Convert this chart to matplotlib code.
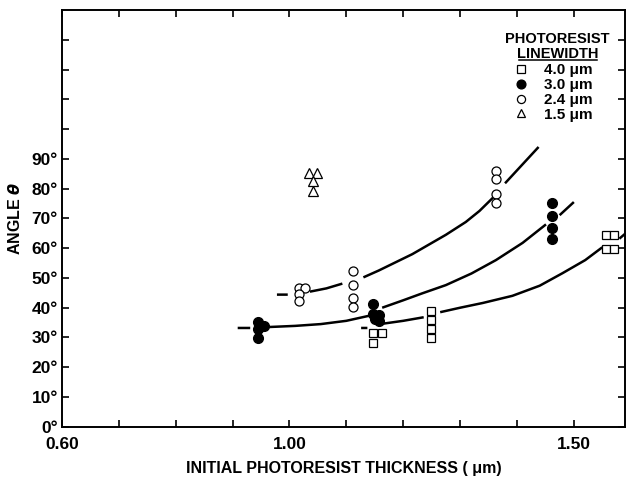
"""
    Angle vs initial photoresist thickness for several photoresist linewidths
"""
import numpy as np
from matplotlib import pyplot as plt
from matplotlib.ticker import FixedLocator, FuncFormatter

nan = np.nan

# data
# 4.0 um (open squares)
sq_x = [1.147, 1.162, 1.147, 1.248, 1.248, 1.248, 1.248, 1.556, 1.571, 1.556, 1.571]
sq_y = [31.4, 31.4, 28.3, 38.9, 35.9, 32.8, 29.8, 64.3, 64.3, 59.6, 59.6]
# 3.0 um (filled circles)
fc_x = [0.945, 0.956, 0.945, 0.945, 1.147, 1.147, 1.158, 1.150, 1.158, 1.462, 1.462, 1.462, 1.462]
fc_y = [35.2, 34.0, 32.8, 29.8, 41.2, 38.0, 37.5, 36.2, 35.5, 75.1, 70.8, 66.9, 63.1]
# 2.4 um (open circles)
oc_x = [1.016, 1.028, 1.016, 1.016, 1.112, 1.112, 1.112, 1.112, 1.364, 1.364, 1.364, 1.364]
oc_y = [46.5, 46.5, 44.5, 42.3, 52.3, 47.7, 43.4, 40.4, 86.1, 83.3, 78.1, 75.1]
# 1.5 um (open triangles)
tr_x = [1.034, 1.048, 1.041, 1.041]
tr_y = [85.3, 85.3, 82.5, 79.2]

# hand-drawn trend curves (broken where they pass the markers)
c24_x = [0.978, 0.997, nan, 1.036, 1.065, 1.093, nan, 1.130, 1.157, 1.216, 1.275, 1.310, 1.334, 1.358, nan, 1.379, 1.438]
c24_y = [44.4, 44.4, nan, 45.4, 46.5, 48.1, nan, 50.2, 52.5, 58.0, 64.5, 68.8, 72.5, 77.0, nan, 81.8, 94.0]
c30_x = [0.909, 0.931, nan, 0.962, 1.010, 1.055, 1.100, 1.140, nan, 1.163, 1.200, 1.233, 1.275, 1.320, 1.363, 1.410, 1.451, nan, 1.475, 1.500]
c30_y = [33.2, 33.2, nan, 33.5, 33.9, 34.5, 35.6, 37.3, nan, 40.0, 42.5, 44.8, 47.6, 51.5, 56.0, 61.8, 68.0, nan, 71.1, 75.5]
c40_x = [1.126, 1.137, nan, 1.163, 1.200, 1.236, nan, 1.265, 1.300, 1.340, 1.392, 1.440, 1.480, 1.520, 1.550, nan, 1.580, 1.596]
c40_y = [33.2, 33.2, nan, 34.6, 35.6, 36.8, nan, 38.5, 40.0, 41.6, 44.0, 47.4, 51.6, 56.0, 60.3, nan, 63.2, 65.8]

legend_labels = ["4.0 μm", "3.0 μm", "2.4 μm", "1.5 μm"]

plt.rcParams['font.family'] = ['Liberation Sans', 'DejaVu Sans']
plt.rcParams['font.weight'] = 'bold'

fig = plt.figure(figsize=(6.32, 4.79), dpi=100)
ax = fig.add_axes([0.098, 0.109, 0.891, 0.870])

# curves
for cx, cy in [(c24_x, c24_y), (c30_x, c30_y), (c40_x, c40_y)]:
    ax.plot(cx, cy, color='black', lw=1.8, solid_capstyle='butt')

# markers
h1, = ax.plot(sq_x, sq_y, 's', ms=6.2, mfc='white', mec='black', mew=0.9, ls='none')
h2, = ax.plot(fc_x, fc_y, 'o', ms=7, mfc='black', mec='black', ls='none')
h3, = ax.plot(oc_x, oc_y, 'o', ms=6.5, mfc='white', mec='black', mew=0.9, ls='none')
h4, = ax.plot(tr_x, tr_y, '^', ms=6.5, mfc='white', mec='black', mew=0.9, ls='none')

# axes
ax.set_xlim(0.6, 1.59)
ax.set_ylim(0, 140)
ax.xaxis.set_major_locator(FixedLocator(np.arange(6, 16) / 10))
ax.yaxis.set_major_locator(FixedLocator(np.arange(0, 140, 10)))
ax.xaxis.set_major_formatter(FuncFormatter(
    lambda v, p: "%.2f" % v if round(v, 2) in (0.6, 1.0, 1.5) else ""))
ax.yaxis.set_major_formatter(FuncFormatter(
    lambda v, p: "%d°" % v if v <= 90 else ""))
ax.tick_params(direction='in', length=5, width=1.2, top=True, right=True,
               labelsize=12.5)
ax.tick_params(axis='x', pad=7)
ax.tick_params(axis='y', pad=3)
for s in ax.spines.values():
    s.set_linewidth(1.4)

ax.set_xlabel("INITIAL PHOTORESIST THICKNESS ( μm)", fontsize=11.5,
              fontweight='bold', labelpad=7)
ax.set_ylabel("ANGLE $\\theta$", fontsize=11.5, fontweight='bold', labelpad=6)

# legend
ax.text(0.880, 0.922, "PHOTORESIST", transform=ax.transAxes, ha='center',
        fontsize=10.5)
ax.text(0.880, 0.884, "LINEWIDTH", transform=ax.transAxes, ha='center',
        fontsize=10.5)
ax.plot([0.812, 0.950], [0.880, 0.880], transform=ax.transAxes,
        color='black', lw=1.1)
leg = ax.legend([h1, h2, h3, h4], legend_labels, loc='upper left',
                bbox_to_anchor=(0.778, 0.905), frameon=False,
                prop={'size': 11, 'weight': 'bold'}, handlelength=1.0,
                handletextpad=1.0, labelspacing=0.05, markerscale=0.9)

plt.savefig("out.png", dpi=100)
